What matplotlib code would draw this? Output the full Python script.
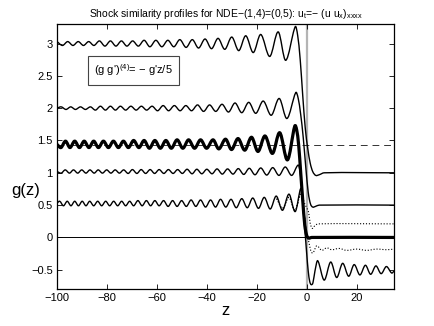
import matplotlib
matplotlib.use('Agg')
import matplotlib.pyplot as plt
from matplotlib.path import Path
from matplotlib.patches import PathPatch

plt.rcParams['font.family'] = ['Liberation Sans', 'DejaVu Sans']
plt.rcParams['mathtext.fontset'] = 'custom'
plt.rcParams['mathtext.rm'] = 'Liberation Sans'
plt.rcParams['mathtext.it'] = 'Liberation Sans:italic'

# profile g(z) with g(-inf)=3 -> g(+inf)=1
zA = [-100, -97.8, -95.7, -93.6, -91.5, -89.4, -87.3, -85.2, -83.0, -80.8, -78.6,
      -76.4, -74.2, -72.0, -69.7, -67.4, -65.1, -62.8, -60.4, -58.0, -55.6,
      -53.2, -50.8, -48.3, -45.8, -43.3, -40.7, -38.1, -35.5, -32.8, -30.0,
      -27.2, -24.4, -21.4, -18.4, -14.8, -11.4, -8.4, -4.6,
      -3.6, -2.6, -1.6, -0.6, 0.4, 1.4, 2.4, 3.6, 5.0, 7.0, 35]
gA = [3.03, 2.97, 3.03, 2.97, 3.03, 2.97, 3.03, 2.97, 3.04, 2.96, 3.04,
      2.96, 3.04, 2.96, 3.04, 2.96, 3.05, 2.95, 3.05, 2.95, 3.05,
      2.95, 3.06, 2.94, 3.06, 2.93, 3.07, 2.92, 3.08, 2.91, 3.10,
      2.89, 3.12, 2.86, 3.14, 2.80, 3.18, 2.74, 3.26,
      3.12, 2.75, 2.2, 1.7, 1.38, 1.15, 1.02, 0.96, 0.97, 1.0, 1.0]

# 2 -> 0.5
zB = [-100, -98.3, -96.4, -94.5, -92.6, -90.6, -88.6, -86.6, -84.6, -82.6, -80.6,
      -78.6, -76.6, -74.6, -72.5, -70.4, -68.3, -66.2, -64.1, -61.9, -59.7,
      -57.5, -55.3, -53.0, -50.7, -48.4, -46.1, -43.7, -41.3, -38.9, -36.4,
      -33.9, -31.3, -28.7, -26.0, -23.2, -20.4, -17.4, -14.2, -11.0, -7.9, -4.4,
      -3.4, -2.4, -1.4, -0.4, 0.6, 1.5, 2.4, 3.5, 5.0, 35]
gB = [2.00, 2.02, 1.98, 2.02, 1.98, 2.02, 1.98, 2.02, 1.97, 2.03, 1.97,
      2.03, 1.97, 2.03, 1.97, 2.03, 1.97, 2.03, 1.97, 2.03, 1.96,
      2.04, 1.96, 2.04, 1.96, 2.04, 1.96, 2.05, 1.95, 2.05, 1.95,
      2.06, 1.94, 2.08, 1.93, 2.09, 1.92, 2.11, 1.89, 2.15, 1.84, 2.24,
      2.15, 1.9, 1.55, 1.1, 0.7, 0.52, 0.47, 0.48, 0.5, 0.5]

# 1.44 -> 0 (thick)
zC = [-100, -98.4, -96.6, -94.8, -92.9, -91.0, -89.1, -87.2, -85.3, -83.4, -81.4,
      -79.4, -77.4, -75.4, -73.4, -71.4, -69.3, -67.2, -65.1, -63.0, -60.8,
      -58.6, -56.4, -54.2, -51.9, -49.6, -47.3, -44.9, -42.5, -40.1, -37.5,
      -35.2, -32.5, -30.1, -27.5, -24.8, -22.1, -19.5, -16.7, -13.7, -10.8, -7.7, -4.8,
      -4.0, -3.2, -2.4, -1.6, -0.8, 0.0, 0.8, 2.0, 35]
gC = [1.44, 1.39, 1.49, 1.39, 1.49, 1.39, 1.49, 1.39, 1.49, 1.39, 1.49,
      1.39, 1.49, 1.39, 1.49, 1.39, 1.50, 1.39, 1.50, 1.38, 1.50,
      1.38, 1.50, 1.38, 1.51, 1.38, 1.51, 1.38, 1.51, 1.38, 1.51,
      1.37, 1.52, 1.36, 1.53, 1.35, 1.55, 1.33, 1.57, 1.30, 1.62, 1.20, 1.72,
      1.66, 1.42, 1.0, 0.58, 0.2, 0.03, -0.01, 0.0, 0.0]

# 1 -> 0
zD = [-100, -98.3, -96.7, -95.0, -93.4, -91.7, -90.1, -88.4, -86.8, -85.1, -83.5,
      -81.8, -80.1, -78.4, -76.7, -75.0, -73.3, -71.5, -69.8, -68.0, -66.3,
      -64.5, -62.7, -60.9, -59.1, -57.2, -55.4, -53.5, -51.7, -49.8, -47.9,
      -45.9, -44.0, -42.0, -40.0, -37.9, -35.9, -33.8, -31.7, -29.5, -27.4,
      -25.2, -23.0, -20.7, -18.4, -16.0, -13.6, -11.1, -8.6, -6.0, -3.4,
      -2.6, -1.8, -1.0, -0.2, 0.6, 1.5, 3.0, 35]
gD = [1.02, 0.995, 1.045, 0.995, 1.045, 0.995, 1.045, 0.995, 1.045, 0.995, 1.045,
      0.995, 1.045, 0.995, 1.045, 0.995, 1.045, 0.99, 1.05, 0.99, 1.05,
      0.99, 1.05, 0.99, 1.05, 0.99, 1.05, 0.99, 1.05, 0.99, 1.055,
      0.985, 1.055, 0.985, 1.055, 0.985, 1.06, 0.98, 1.06, 0.98, 1.065,
      0.975, 1.07, 0.97, 1.075, 0.965, 1.08, 0.96, 1.09, 0.96, 1.12,
      1.0, 0.7, 0.35, 0.08, 0.0, -0.01, 0.0, 0.0]

# 0.5 -> -0.5 (oscillating on both sides)
zE = [-100, -98.9, -97.4, -95.9, -94.4, -92.9, -91.4, -89.9, -88.4, -86.9, -85.3,
      -83.7, -82.1, -80.5, -78.9, -77.3, -75.7, -74.1, -72.5, -70.9, -69.3,
      -67.6, -65.9, -64.2, -62.5, -60.8, -59.1, -57.3, -55.5, -53.7, -51.9,
      -50.1, -48.2, -46.3, -44.4, -42.5, -40.5, -38.5, -36.5, -34.5, -32.4,
      -30.3, -28.2, -26.0, -23.8, -21.6, -19.3, -17.0, -14.6, -12.2, -9.7,
      -7.1, -4.6, -2.4,
      -1.8, -1.2, -0.6, 0.0, 0.6, 1.2, 1.8, 2.5, 3.3, 4.4, 7.0, 9.6, 12.0,
      14.4, 16.8, 19.0, 21.3, 23.5, 25.6, 27.7, 29.8, 31.9, 34.0, 35.0]
gE = [0.53, 0.56, 0.49, 0.56, 0.49, 0.56, 0.49, 0.56, 0.49, 0.56, 0.49,
      0.56, 0.49, 0.56, 0.49, 0.56, 0.49, 0.56, 0.49, 0.56, 0.49,
      0.57, 0.49, 0.57, 0.49, 0.57, 0.49, 0.57, 0.48, 0.57, 0.48,
      0.57, 0.48, 0.58, 0.48, 0.58, 0.47, 0.58, 0.47, 0.59, 0.47,
      0.59, 0.46, 0.60, 0.46, 0.61, 0.45, 0.62, 0.44, 0.64, 0.42,
      0.67, 0.40, 0.76,
      0.62, 0.35, 0.05, -0.25, -0.52, -0.68, -0.73, -0.70, -0.52, -0.36, -0.66, -0.38, -0.62,
      -0.40, -0.60, -0.42, -0.58, -0.43, -0.57, -0.44, -0.56, -0.45, -0.55, -0.52]

# dotted profiles
zF = [-12, -9.7, -7.1, -4.6, -2.4, -1.6, -0.8, 0.0, 0.8, 1.4, 2.2, 3.2, 4.5, 35]
gF = [0.60, 0.45, 0.62, 0.42, 0.70, 0.62, 0.52, 0.46, 0.38, 0.22, 0.14, 0.18, 0.21, 0.21]
zG = [-12, -9.7, -7.1, -4.6, -2.4, -1.6, -0.8, 0.0, 0.8, 1.6, 2.5, 4.0, 6.0, 8.0,
      10, 13, 16, 20, 24, 28, 32, 35]
gG = [0.60, 0.45, 0.62, 0.42, 0.68, 0.55, 0.30, 0.05, -0.06, -0.20, -0.24, -0.13, -0.20, -0.16,
      -0.19, -0.17, -0.20, -0.18, -0.20, -0.18, -0.19, -0.18]

g_mean = 1.43
title = "Shock similarity profiles for NDE\u2212(1,4)=(0,5): u$_\\mathrm{t}$=\u2212 (u u$_\\mathrm{x}$)$_\\mathrm{xxxx}$"
eq = "(g g')$^{(4)}$= \u2212 g'z/5"


def smooth_line(ax, z, g, **kw):
    # cubic Hermite segments (Bezier path) through the read points
    n = len(z)
    slopes = []
    for i in range(n):
        a, b = max(i - 1, 0), min(i + 1, n - 1)
        slopes.append((g[b] - g[a]) / (z[b] - z[a]))
    verts = [(z[0], g[0])]
    codes = [Path.MOVETO]
    for i in range(n - 1):
        h = (z[i + 1] - z[i]) / 3.0
        verts += [(z[i] + h, g[i] + slopes[i] * h),
                  (z[i + 1] - h, g[i + 1] - slopes[i + 1] * h),
                  (z[i + 1], g[i + 1])]
        codes += [Path.CURVE4] * 3
    ax.add_patch(PathPatch(Path(verts, codes), fill=False, **kw))


fig = plt.figure(figsize=(4.35, 3.26), dpi=100)
ax = fig.add_axes([0.131, 0.113, 0.775, 0.813])

ax.axvline(0, color='#b4b4b4', lw=1.6, zorder=1)
ax.axhline(0, color='k', lw=0.7, zorder=1)
ax.axhline(g_mean, color='#333333', lw=0.7, ls=(0, (7, 5)), zorder=1)

smooth_line(ax, zF, gF, ec='k', lw=0.8, ls=':')
smooth_line(ax, zG, gG, ec='k', lw=0.8, ls=':')
for z, g in [(zA, gA), (zB, gB), (zD, gD), (zE, gE)]:
    smooth_line(ax, z, g, ec='k', lw=1.0, joinstyle='round')
smooth_line(ax, zC, gC, ec='k', lw=2.3, joinstyle='round')

ax.set_xlim(-100, 35)
ax.set_ylim(-0.8, 3.3)
ax.set_xticks([-100, -80, -60, -40, -20, 0, 20])
ax.set_xticklabels(['\u2212100', '\u221280', '\u221260', '\u221240', '\u221220', '0', '20'])
ax.set_yticks([-0.5, 0, 0.5, 1, 1.5, 2, 2.5, 3])
ax.set_yticklabels(['\u22120.5', '0', '0.5', '1', '1.5', '2', '2.5', '3'])
ax.tick_params(direction='in', top=True, right=True, length=3.5, width=0.6,
               labelsize=8, pad=3)
for s in ax.spines.values():
    s.set_linewidth(0.9)

ax.set_title(title, fontsize=7.5, pad=5)
ax.set_xlabel('z', fontsize=12, labelpad=0)
ax.set_ylabel('g(z)', fontsize=12, rotation=0, ha='center', va='center')
ax.yaxis.set_label_coords(-0.092, 0.374)

ax.text(0.11, 0.825, eq, transform=ax.transAxes, fontsize=8, va='center', ha='left',
        bbox=dict(boxstyle='square,pad=0.55', fc='white', ec='#444444', lw=0.8))

fig.savefig('out.png', dpi=100)
